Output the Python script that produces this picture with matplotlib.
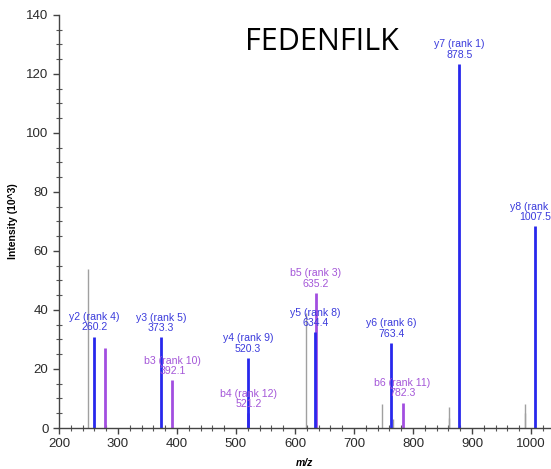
import matplotlib
matplotlib.use("Agg")
import matplotlib.pyplot as plt
from matplotlib.ticker import MultipleLocator

# annotated fragment ions
ion_names = ['y2', 'y3', 'b3', 'y4', 'b4', 'b5', 'y5', 'y6', 'b6', 'y7', 'y8']
ion_ranks = [4, 5, 10, 9, 12, 3, 8, 6, 11, 1, 2]
ion_mz = [260.2, 373.3, 392.1, 520.3, 521.2, 635.2, 634.4, 763.4, 782.3, 878.5, 1007.5]
ion_int = [31.0, 30.7, 16.2, 23.8, 5.0, 45.8, 32.5, 28.8, 8.6, 123.4, 68.3]

# matched b ion without a label
extra_b_mz = [278.1]
extra_b_int = [27.0]

# unassigned peaks
other_mz = [249.0, 618.0, 747.0, 765.5, 860.5, 861.5, 989.5, 990.5]
other_int = [54.0, 39.0, 8.0, 3.0, 3.5, 7.0, 8.0, 5.0]

BLUE = '#2828ec'
BLUE_TXT = '#3b3bdc'
PURPLE = '#a24ee0'
PURPLE_TXT = '#a456d8'
GREY = '#a0a0a0'

plt.rcParams['font.family'] = ['Liberation Sans', 'DejaVu Sans']

fig = plt.figure(figsize=(5.51, 4.69), dpi=100)
ax = fig.add_axes([0.107, 0.0874, 0.893, 0.881])

ax.vlines(other_mz, 0, other_int, color=GREY, lw=1.0)
ax.vlines(extra_b_mz, 0, extra_b_int, color=PURPLE, lw=2.0)

# b ions first so y ions sit on top where they overlap
order = sorted(range(len(ion_names)), key=lambda i: ion_names[i][0] == 'y')
for i in order:
    is_y = ion_names[i].startswith('y')
    ax.vlines(ion_mz[i], 0, ion_int[i], color=BLUE if is_y else PURPLE, lw=2.0)

for i in range(len(ion_names)):
    is_y = ion_names[i].startswith('y')
    ax.annotate('%s (rank %d)\n%.1f' % (ion_names[i], ion_ranks[i], ion_mz[i]),
                xy=(ion_mz[i], ion_int[i]), xytext=(0, 3), textcoords='offset points',
                ha='center', va='bottom', fontsize=7.6, linespacing=1.05,
                color=BLUE_TXT if is_y else PURPLE_TXT, annotation_clip=False)

ax.set_xlim(200, 1034)
ax.set_ylim(0, 140)
ax.xaxis.set_major_locator(MultipleLocator(100))
ax.xaxis.set_minor_locator(MultipleLocator(20))
ax.yaxis.set_major_locator(MultipleLocator(20))
ax.yaxis.set_minor_locator(MultipleLocator(5))

for side in ['top', 'right']:
    ax.spines[side].set_visible(False)
for side in ['left', 'bottom']:
    ax.spines[side].set_color('#444444')
    ax.spines[side].set_linewidth(1.0)

ax.tick_params(which='major', direction='out', length=4, width=1, color='#444444',
               labelsize=9.5, labelcolor='#2a2a2a')
ax.tick_params(which='minor', direction='inout', length=4, width=0.8, color='#555555')

ax.set_ylabel('Intensity (10^3)', fontsize=7.5, fontweight='bold')
ax.yaxis.set_label_coords(-0.083, 0.5)
ax.set_xlabel('m/z', fontsize=7.5, fontweight='bold', style='italic')
ax.xaxis.set_label_coords(0.5, -0.073)

fig.text(0.585, 0.91, 'FEDENFILK', fontsize=22, family=['Open Sans', 'DejaVu Sans'],
         ha='center', va='center', color='black')

fig.savefig('out.png', dpi=100)
